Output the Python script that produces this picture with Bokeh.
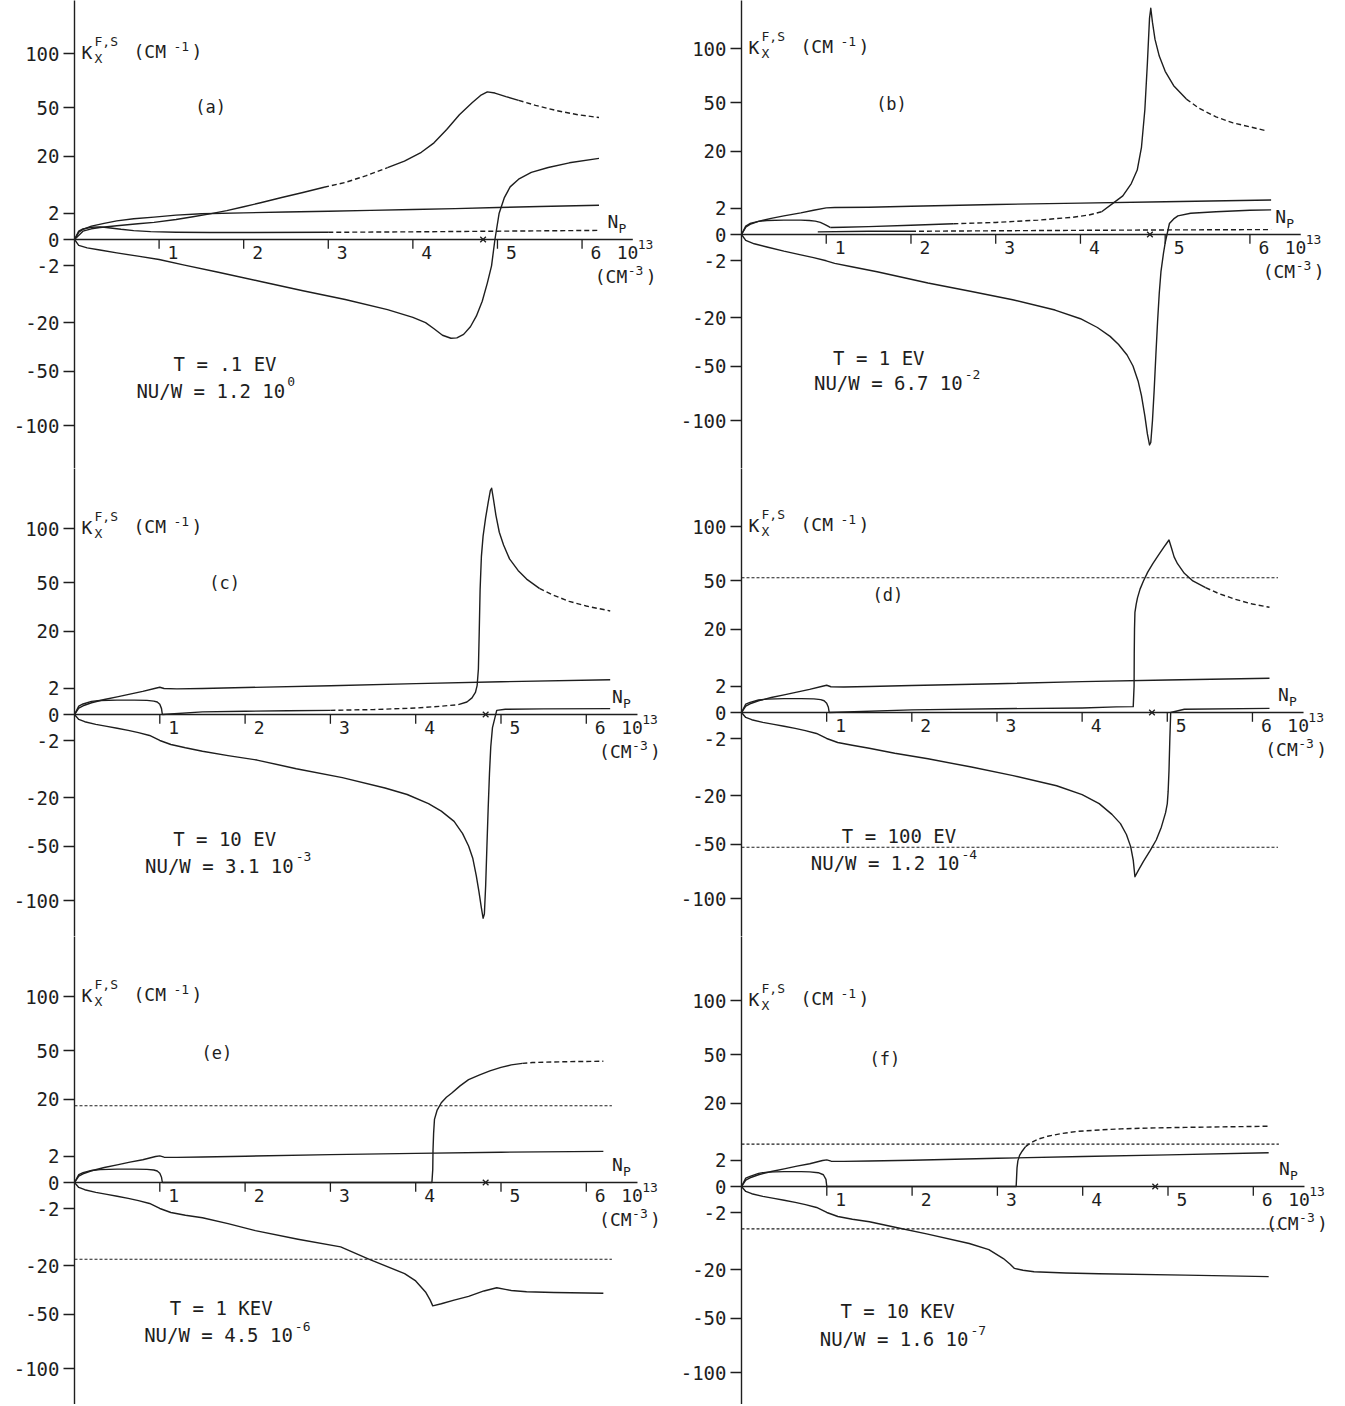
import numpy as np
from bokeh.plotting import figure
from bokeh.layouts import gridplot
from bokeh.models import Range1d, FixedTicker
from bokeh.core.properties import value
from bokeh.embed import file_html
from bokeh.resources import INLINE

# ---------------------------------------------------------------- data
Y_TICK_VALUES = [-100, -50, -20, -2, 0, 2, 20, 50, 100]
X_TICK_VALUES = [1, 2, 3, 4, 5, 6]
X_TICK_LABELS = ["1", "2", "3", "4", "5", "6"]

PANEL_TAGS = ["(a)", "(b)", "(c)", "(d)", "(e)", "(f)"]
TEMPERATURES = ["T = .1 EV", "T = 1 EV", "T = 10 EV", "T = 100 EV", "T = 1 KEV", "T = 10 KEV"]
NU_MANTISSA = ["NU/W = 1.2 10", "NU/W = 6.7 10", "NU/W = 3.1 10",
               "NU/W = 1.2 10", "NU/W = 4.5 10", "NU/W = 1.6 10"]
NU_EXPONENT = ["0", "-2", "-3", "-4", "-6", "-7"]
CROSS_DENSITY = [4.83, 4.82, 4.82, 4.82, 4.82, 4.85]
HLINE_LEVEL = [None, None, None, 52.5, 17.0, 5.2]

# panel (a)  T = .1 eV
a_A_N = [0, 0.05, 0.1, 0.2, 0.35, 0.5, 0.7, 0.94, 1.2, 1.5, 2.0, 2.5, 3.0, 3.5, 4.0, 4.5, 5.0, 5.5, 6.2]
a_A_K = [0, 0.15, 0.3, 0.52, 0.75, 1.0, 1.25, 1.45, 1.72, 1.92, 2.05, 2.18, 2.3, 2.45, 2.6, 2.75, 2.95, 3.15, 3.4]
a_B_N = [0, 0.05, 0.1, 0.2, 0.3, 0.4, 0.55, 0.7, 0.9, 1.2, 1.6, 2.0, 3.0, 4.0, 5.0, 6.2]
a_B_K = [0, 0.2, 0.32, 0.43, 0.46, 0.4, 0.3, 0.23, 0.18, 0.15, 0.14, 0.14, 0.15, 0.17, 0.2, 0.24]
a_C_N = [0, 0.1, 0.2, 0.3, 0.5, 0.75, 0.94, 1.2, 1.4, 1.6, 1.8, 2.0, 2.2, 2.45, 2.7, 2.95, 3.2, 3.45, 3.7,
         3.9, 4.1, 4.25, 4.4, 4.55, 4.7, 4.8, 4.88, 4.97, 5.1, 5.25, 5.45, 5.7, 5.95, 6.2]
a_C_K = [0, 0.2, 0.33, 0.42, 0.55, 0.72, 0.85, 1.15, 1.5, 1.9, 2.4, 3.1, 3.9, 5.1, 6.4, 7.9, 9.4, 11.8, 14.9,
         17.8, 22, 27, 35, 45, 54, 60, 63, 62, 59, 56, 52, 48, 45, 43]
a_D_N = [0, 0.05, 0.15, 0.3, 0.5, 0.75, 1.0, 1.3, 1.7, 2.2, 2.7, 3.2, 3.7, 4.0, 4.15, 4.25, 4.35, 4.45, 4.52,
         4.6, 4.68, 4.75, 4.82, 4.88, 4.93, 4.97, 5.02, 5.08, 5.15, 5.25, 5.4, 5.6, 5.85, 6.2]
a_D_K = [0, -0.1, -0.2, -0.32, -0.52, -0.8, -1.15, -1.9, -3.1, -5.1, -7.6, -10.4, -14.2, -17.5, -20, -23, -26.5,
         -28.2, -28, -26, -22, -17, -11, -5.5, -2, 0, 2, 5, 8, 10.5, 13, 15, 17, 19]

# panel (b)  T = 1 eV
b_A_N = [0, 0.05, 0.1, 0.2, 0.35, 0.5, 0.7, 0.85, 1.0, 1.1, 1.5, 2.0, 3.0, 4.0, 5.0, 6.25]
b_A_K = [0, 0.15, 0.3, 0.5, 0.75, 1.0, 1.35, 1.7, 2.05, 2.1, 2.15, 2.3, 2.6, 2.85, 3.1, 3.45]
b_B_N = [0, 0.05, 0.1, 0.2, 0.3, 0.5, 0.7, 0.8, 0.87, 0.93, 0.98, 1.02, 1.05]
b_B_K = [0, 0.2, 0.35, 0.5, 0.57, 0.6, 0.6, 0.57, 0.52, 0.42, 0.3, 0.2, 0.14]
b_C_N = [1.05, 1.2, 1.5, 2.0, 2.5, 3.0, 3.5, 3.9, 4.1, 4.25, 4.39, 4.5, 4.6, 4.67, 4.72, 4.76, 4.79, 4.815,
         4.83, 4.85, 4.88, 4.93, 5.0, 5.1, 5.25, 5.4, 5.6, 5.8, 6.0, 6.2]
b_C_K = [0.14, 0.15, 0.18, 0.25, 0.33, 0.42, 0.6, 0.85, 1.1, 1.5, 2.9, 4.3, 7.5, 12, 22, 45, 85, 135,
         148, 130, 110, 92, 77, 64, 53, 46, 40, 36, 33.5, 31]
b_E_N = [0.9, 1.5, 2.0, 3.0, 4.0, 5.0, 6.25]
b_E_K = [0.02, 0.03, 0.03, 0.04, 0.05, 0.06, 0.07]
b_D_N = [0, 0.05, 0.15, 0.3, 0.5, 0.7, 0.85, 1.0, 1.1, 1.3, 1.6, 2.2, 2.7, 3.2, 3.7, 4.0, 4.2, 4.35, 4.45,
         4.55, 4.62, 4.68, 4.72, 4.76, 4.79, 4.815, 4.83, 4.85, 4.87, 4.89, 4.91, 4.93, 4.95, 4.98, 5.0,
         5.05, 5.1, 5.15, 5.3, 5.6, 6.0, 6.25]
b_D_K = [0, -0.1, -0.25, -0.45, -0.8, -1.2, -1.55, -2.0, -2.4, -3.0, -4.0, -6.8, -9.3, -12.3, -16.5, -20.5, -25,
         -30, -35, -42, -50, -62, -75, -95, -115, -128, -125, -100, -70, -42, -22, -10, -4, -1, -0.2,
         0.35, 0.7, 1.0, 1.3, 1.5, 1.7, 1.75]

# panel (c)  T = 10 eV
c_A_N = [0, 0.05, 0.1, 0.2, 0.35, 0.5, 0.65, 0.8, 0.95, 1.0, 1.05, 1.2, 1.5, 2.0, 3.0, 4.0, 5.0, 6.28]
c_A_K = [0, 0.12, 0.22, 0.4, 0.65, 0.9, 1.2, 1.55, 2.0, 2.15, 1.95, 1.9, 1.95, 2.1, 2.4, 2.75, 3.1, 3.5]
c_B_N = [0, 0.05, 0.1, 0.2, 0.3, 0.5, 0.7, 0.85, 0.93, 0.97, 1.0, 1.02, 1.03]
c_B_K = [0, 0.2, 0.32, 0.5, 0.57, 0.6, 0.6, 0.58, 0.52, 0.45, 0.3, 0.1, 0]
c_C_N = [1.03, 1.5, 2.0, 2.5, 3.0, 3.5, 4.0, 4.3, 4.5, 4.6, 4.66, 4.7, 4.72, 4.735, 4.745, 4.755, 4.77, 4.79,
         4.82, 4.85, 4.875, 4.89, 4.91, 4.94, 4.98, 5.03, 5.1, 5.2, 5.3, 5.45, 5.6, 5.8, 6.0, 6.28]
c_C_K = [0, 0.02, 0.03, 0.04, 0.05, 0.07, 0.12, 0.2, 0.28, 0.45, 0.8, 1.4, 2.4, 6, 20, 45, 72, 92,
         112, 130, 145, 148, 135, 115, 96, 83, 70, 60, 53, 46, 41.5, 37, 34, 31]
c_D_N = [0, 0.05, 0.12, 0.25, 0.38, 0.5, 0.63, 0.75, 0.88, 1.0, 1.13, 1.3, 1.5, 1.8, 2.14, 2.6, 3.14, 3.64,
         3.9, 4.15, 4.3, 4.45, 4.55, 4.62, 4.67, 4.71, 4.74, 4.77, 4.79, 4.805, 4.82, 4.835, 4.85, 4.865,
         4.88, 4.9, 4.95, 5.05, 5.5, 6.28]
c_D_K = [0, -0.07, -0.15, -0.28, -0.41, -0.55, -0.73, -0.95, -1.27, -1.95, -2.6, -3.2, -3.9, -4.9, -6.0, -8.5,
         -11.5, -15.6, -18.5, -23, -27, -33, -41, -50, -60, -75, -90, -108, -120, -115, -85, -50, -25, -10,
         -3, -0.5, 0.05, 0.08, 0.09, 0.1]

# panel (d)  T = 100 eV
d_A_N = [0, 0.05, 0.1, 0.2, 0.35, 0.5, 0.65, 0.8, 0.95, 1.0, 1.05, 1.2, 1.5, 2.0, 3.0, 4.0, 5.0, 6.2]
d_A_K = [0, 0.12, 0.22, 0.4, 0.65, 0.9, 1.2, 1.55, 2.0, 2.15, 1.92, 1.88, 1.95, 2.1, 2.4, 2.75, 3.05, 3.4]
d_B_N = [0, 0.05, 0.1, 0.2, 0.3, 0.5, 0.7, 0.85, 0.93, 0.97, 1.0, 1.02, 1.03]
d_B_K = [0, 0.2, 0.3, 0.45, 0.52, 0.56, 0.56, 0.54, 0.48, 0.4, 0.25, 0.08, 0]
d_C_N = [1.03, 2.0, 3.0, 4.0, 4.4, 4.6, 4.61, 4.612, 4.615, 4.62, 4.635, 4.65, 4.68, 4.72, 4.77, 4.83, 4.9,
         4.96, 5.02, 5.05, 5.08, 5.12, 5.2, 5.3, 5.45, 5.6, 5.8, 6.0, 6.2]
d_C_K = [0, 0.02, 0.04, 0.06, 0.09, 0.1, 2, 10, 20, 29, 34, 38, 44, 50, 57, 64, 72,
         79, 86, 78, 70, 64, 56, 50, 45, 41, 37, 34, 32]
d_D_N = [0, 0.05, 0.12, 0.25, 0.38, 0.5, 0.63, 0.75, 0.88, 1.0, 1.13, 1.3, 1.5, 1.8, 2.19, 2.7, 3.19, 3.7,
         4.0, 4.2, 4.35, 4.45, 4.52, 4.57, 4.6, 4.62, 4.66, 4.72, 4.8, 4.87, 4.93, 4.98, 5.0, 5.01, 5.02,
         5.03, 5.04, 5.2, 6.2]
d_D_K = [0, -0.07, -0.15, -0.28, -0.41, -0.55, -0.73, -0.95, -1.27, -1.95, -2.6, -3.1, -3.7, -4.8, -6.2, -8.6,
         -11.5, -15.5, -19.5, -24, -30, -35.7, -43, -52, -63, -78, -72, -64, -55, -47, -38, -29, -24, -18,
         -9.7, -2, 0, 0.03, 0.05]

# panel (e)  T = 1 keV
e_A_N = [0, 0.05, 0.1, 0.2, 0.35, 0.5, 0.65, 0.8, 0.95, 1.0, 1.05, 1.2, 1.5, 2.0, 3.0, 4.0, 5.0, 6.2]
e_A_K = [0, 0.12, 0.22, 0.4, 0.65, 0.9, 1.2, 1.5, 1.95, 2.05, 1.85, 1.82, 1.88, 2.0, 2.25, 2.45, 2.65, 2.8]
e_B_N = [0, 0.05, 0.1, 0.2, 0.3, 0.5, 0.7, 0.85, 0.93, 0.97, 1.0, 1.02, 1.03]
e_B_K = [0, 0.18, 0.28, 0.42, 0.48, 0.52, 0.52, 0.5, 0.45, 0.38, 0.25, 0.08, 0]
e_C_N = [1.03, 2.0, 3.0, 4.0, 4.19, 4.2, 4.203, 4.21, 4.22, 4.25, 4.3, 4.36, 4.42, 4.52, 4.62, 4.75, 4.87,
         5.0, 5.12, 5.25, 5.37, 5.62, 5.9, 6.2]
e_C_K = [0, 0, 0, 0, 0, 0.5, 3, 7, 11.5, 15, 18.4, 21, 23, 27, 30.6, 33.5, 36,
         38.3, 40, 41, 41.6, 42, 42.3, 42.5]
e_D_N = [0, 0.05, 0.12, 0.25, 0.38, 0.5, 0.63, 0.75, 0.88, 1.0, 1.13, 1.3, 1.5, 1.8, 2.12, 2.62, 3.12, 3.45,
         3.87, 4.0, 4.12, 4.17, 4.2, 4.3, 4.45, 4.62, 4.8, 4.95, 5.05, 5.12, 5.3, 5.62, 6.2]
e_D_K = [0, -0.07, -0.15, -0.28, -0.41, -0.55, -0.73, -0.95, -1.27, -1.95, -2.6, -3.1, -3.6, -4.9, -6.7, -9.3,
         -12, -17, -24, -28, -35, -40, -44, -42.5, -40, -37.5, -34, -32, -33, -33.7, -34.5, -35, -35.5]

# panel (f)  T = 10 keV
f_A_N = [0, 0.05, 0.1, 0.2, 0.35, 0.5, 0.65, 0.8, 0.95, 1.0, 1.05, 1.2, 1.5, 2.0, 3.0, 4.0, 5.0, 6.18]
f_A_K = [0, 0.12, 0.22, 0.4, 0.65, 0.9, 1.2, 1.5, 1.95, 2.05, 1.85, 1.82, 1.88, 2.0, 2.3, 2.6, 2.9, 3.3]
f_B_N = [0, 0.05, 0.1, 0.2, 0.3, 0.5, 0.7, 0.8, 0.9, 0.96, 0.99, 1.0]
f_B_K = [0, 0.2, 0.3, 0.5, 0.6, 0.64, 0.64, 0.62, 0.55, 0.4, 0.15, 0]
f_C_N = [1.0, 2.0, 3.0, 3.22, 3.23, 3.24, 3.26, 3.29, 3.33, 3.39, 3.48, 3.59, 3.75, 3.94, 4.2, 4.45, 4.8,
         5.2, 5.7, 6.18]
f_C_K = [0, 0, 0, 0, 1.0, 1.9, 2.8, 3.6, 4.6, 5.5, 6.5, 7.3, 8.1, 8.8, 9.25, 9.6, 9.9,
         10.1, 10.3, 10.5]
f_D_N = [0, 0.05, 0.12, 0.25, 0.38, 0.5, 0.63, 0.75, 0.88, 1.0, 1.13, 1.3, 1.5, 1.8, 2.17, 2.67, 2.9, 3.07,
         3.15, 3.2, 3.3, 3.43, 3.8, 4.19, 5.2, 6.18]
f_D_K = [0, -0.07, -0.15, -0.28, -0.41, -0.55, -0.73, -0.95, -1.27, -1.95, -2.6, -3.1, -3.6, -4.8, -6.5, -9.4,
         -11.5, -15, -17.5, -19.4, -20.3, -21, -21.6, -22, -22.7, -23.5]

# ---------------------------------------------------------------- style / layout
INK = "#1e1e1e"
FONT = "DejaVu Sans Mono"
S = 18.6          # px per sqrt(|K|) unit
UX = 85.3         # px per 10^13 cm^-3
W, H = 672, 468
ZERO_PX = [239, 234, 246, 244, 246, 250]
LEFT_PX = [69, 65, 74, 68, 74, 69]
TAG_POS = [(1.61, 7.1), (1.77, 7.0), (1.76, 7.07), (1.72, 6.34), (1.67, 6.96), (1.68, 6.87)]
T_POS = [(1.78, -6.69), (1.62, -6.66), (1.76, -6.69), (1.85, -6.66), (1.72, -6.75), (1.83, -6.71)]
NU_POS = [(2.49, -8.12), (2.61, -8.0), (2.57, -8.13), (2.56, -8.1), (2.56, -8.2), (2.66, -8.2)]

DASHES = [
    {"B": [(3.3, 6.4)], "C": [(3.0, 3.6), (5.35, 6.4)]},
    {"C": [(2.3, 4.3), (5.3, 6.4)], "E": [(2.5, 6.4)]},
    {"C": [(3.2, 4.4), (5.4, 6.4)]},
    {"C": [(5.4, 6.4)]},
    {"C": [(5.2, 6.4)]},
    {"C": [(3.35, 6.4)]},
]

PANEL_CURVES = [
    {"A": (a_A_N, a_A_K), "B": (a_B_N, a_B_K), "C": (a_C_N, a_C_K), "D": (a_D_N, a_D_K)},
    {"A": (b_A_N, b_A_K), "B": (b_B_N, b_B_K), "C": (b_C_N, b_C_K), "E": (b_E_N, b_E_K), "D": (b_D_N, b_D_K)},
    {"A": (c_A_N, c_A_K), "B": (c_B_N, c_B_K), "C": (c_C_N, c_C_K), "D": (c_D_N, c_D_K)},
    {"A": (d_A_N, d_A_K), "B": (d_B_N, d_B_K), "C": (d_C_N, d_C_K), "D": (d_D_N, d_D_K)},
    {"A": (e_A_N, e_A_K), "B": (e_B_N, e_B_K), "C": (e_C_N, e_C_K), "D": (e_D_N, e_D_K)},
    {"A": (f_A_N, f_A_K), "B": (f_B_N, f_B_K), "C": (f_C_N, f_C_K), "D": (f_D_N, f_D_K)},
]


def sq(v):
    v = np.asarray(v, dtype=float)
    return np.sign(v) * np.sqrt(np.abs(v))


def tick_key(v):
    f = float(sq(v))
    return int(f) if f.is_integer() else f


def txt(p, x, y, s, size=18, align="left", dx=0, dy=0):
    p.text(x=[x], y=[y], text=[s], text_font=value(FONT), text_font_size=f"{size}px",
           text_align=align, text_baseline="middle", text_color=INK, x_offset=dx, y_offset=dy)


def draw_curve(p, n, k, dashed):
    n = np.asarray(n, dtype=float)
    y = sq(k)
    groups = {True: ([], []), False: ([], [])}
    cur, cx, cy = None, [], []
    for i in range(len(n) - 1):
        mid = 0.5 * (n[i] + n[i + 1])
        st = any(a <= mid <= b for a, b in dashed)
        if st != cur:
            if cx:
                groups[cur][0].append(cx)
                groups[cur][1].append(cy)
            cur, cx, cy = st, [n[i]], [y[i]]
        cx.append(n[i + 1])
        cy.append(y[i + 1])
    if cx:
        groups[cur][0].append(cx)
        groups[cur][1].append(cy)
    if groups[False][0]:
        p.multi_line(groups[False][0], groups[False][1], line_color=INK, line_width=1.4,
                     line_join="round")
    if groups[True][0]:
        p.multi_line(groups[True][0], groups[True][1], line_color=INK, line_width=1.4,
                     line_dash="5 3", line_join="round")


def make_panel(i):
    z, lb = ZERO_PX[i], LEFT_PX[i]
    p = figure(width=W, height=H, x_range=Range1d(0, (W - lb) / UX), y_range=Range1d(-(H - z) / S, z / S),
               output_backend="svg", toolbar_location=None, x_axis_location=None,
               min_border_left=lb, min_border_right=0, min_border_top=0, min_border_bottom=0)
    p.outline_line_color = None
    p.xgrid.visible = False
    p.ygrid.visible = False
    ax = p.yaxis[0]
    ax.ticker = FixedTicker(ticks=[float(sq(v)) for v in Y_TICK_VALUES])
    ax.major_label_overrides = {tick_key(v): str(v) for v in Y_TICK_VALUES}
    ax.major_tick_out = 11
    ax.major_tick_in = 0
    ax.minor_tick_out = 0
    ax.minor_tick_in = 0
    ax.major_label_standoff = 4
    ax.axis_line_color = INK
    ax.axis_line_width = 1.4
    ax.major_tick_line_color = INK
    ax.major_tick_line_width = 1.3
    ax.major_label_text_font = FONT
    ax.major_label_text_font_size = "19px"
    ax.major_label_text_color = INK

    # horizontal N_P axis through K = 0
    p.segment(x0=[0], y0=[0], x1=[6.6], y1=[0], line_color=INK, line_width=1.4)
    p.segment(x0=X_TICK_VALUES, y0=[0.0] * 6, x1=X_TICK_VALUES, y1=[-0.5] * 6, line_color=INK, line_width=1.3)
    p.text(x=[v + 0.1 for v in X_TICK_VALUES], y=[-0.72] * 6, text=X_TICK_LABELS, text_font=value(FONT),
           text_font_size="18px", text_align="left", text_baseline="middle", text_color=INK)
    txt(p, 6.41, -0.72, "10")
    txt(p, 6.41, -0.72, "13", size=13, dx=21, dy=-8)
    txt(p, 6.3, 0.95, "N")
    txt(p, 6.3, 0.95, "P", size=13, dx=11, dy=7)
    txt(p, 6.15, -2.0, "(CM")
    txt(p, 6.15, -2.0, "-3", size=13, dx=33, dy=-6)
    txt(p, 6.15, -2.0, ")", dx=51)

    # y label K_X^{F,S} (CM^-1)
    ytop = float(sq(100))
    txt(p, 0, ytop, "K", dx=7, dy=-1)
    txt(p, 0, ytop, "F,S", size=13, dx=20, dy=-12)
    txt(p, 0, ytop, "X", size=13, dx=20, dy=5)
    txt(p, 0, ytop, "(CM", dx=59, dy=-2)
    txt(p, 0, ytop, "-1", size=13, dx=99, dy=-7)
    txt(p, 0, ytop, ")", dx=117, dy=-2)

    # reference horizontal levels
    lvl = HLINE_LEVEL[i]
    if lvl is not None:
        p.multi_line([[0, 6.3], [0, 6.3]], [[float(sq(lvl))] * 2, [float(sq(-lvl))] * 2],
                     line_color=INK, line_width=1.1, line_dash="3 2")

    for name, (n, k) in PANEL_CURVES[i].items():
        draw_curve(p, n, k, DASHES[i].get(name, []))

    p.scatter(x=[CROSS_DENSITY[i]], y=[0], marker="x", size=8, line_color=INK, line_width=1.3)

    tx, ty = TAG_POS[i]
    txt(p, tx, ty, PANEL_TAGS[i], size=17, align="center")
    tx, ty = T_POS[i]
    txt(p, tx, ty, TEMPERATURES[i], size=19, align="center")
    nx, ny = NU_POS[i]
    txt(p, nx, ny, NU_MANTISSA[i], size=19, align="right")
    txt(p, nx, ny, NU_EXPONENT[i], size=13, dx=2, dy=-9)
    return p


panels = [make_panel(i) for i in range(6)]
grid = gridplot([[panels[0], panels[1]], [panels[2], panels[3]], [panels[4], panels[5]]],
                toolbar_location=None)

with open("out.html", "w") as fh:
    fh.write(file_html(grid, INLINE, title="K_x versus N_p"))
